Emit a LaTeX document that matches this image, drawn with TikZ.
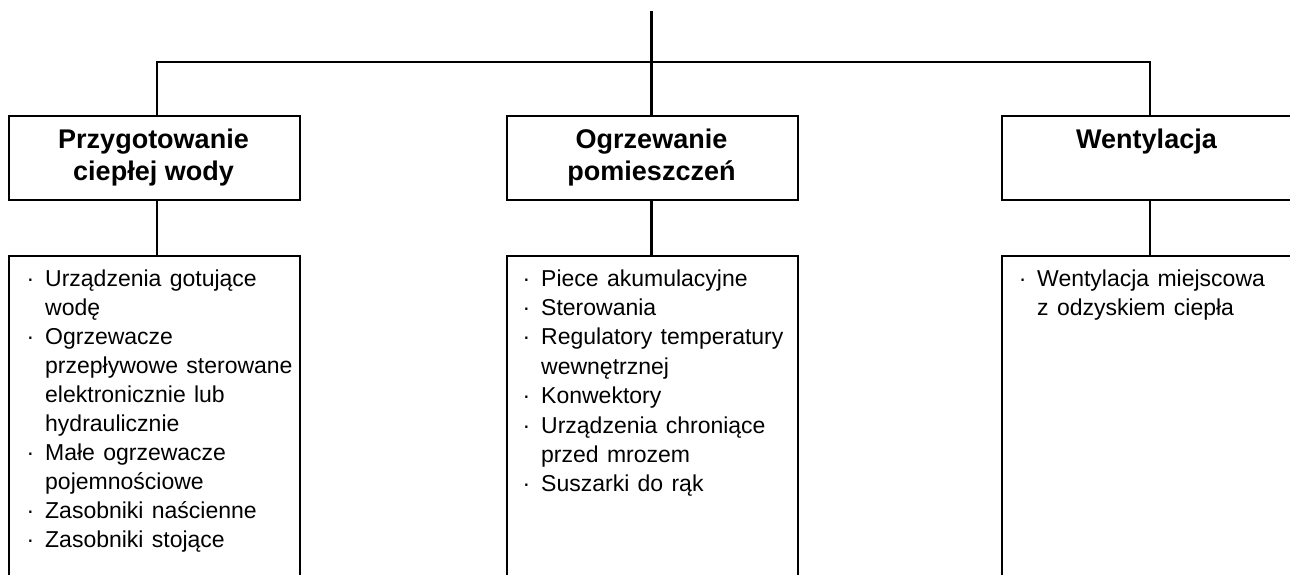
\documentclass[tikz,border=0pt]{standalone}
\usepackage{fontspec}
\setmainfont{Liberation Sans}
\newfontfamily\listfont{Liberation Sans}[WordSpace=1.3]
\newcommand\lbul{\makebox[0pt][r]{·\hspace{10.8pt}}}
\begin{document}
\begin{tikzpicture}[x=1pt,y=-1pt,
  conn/.style={line width=2.2pt},
  box/.style={draw, line width=2.2pt, inner sep=0pt, minimum width=291pt, anchor=north west},
  head/.style={inner sep=0pt, anchor=base, font=\fontsize{27}{31.5}\selectfont\bfseries},
  listtxt/.style={inner sep=0pt, anchor=base west, font=\listfont\fontsize{23}{29}\selectfont}]
\useasboundingbox (0,0) rectangle (1290,574);
\clip (0,0) rectangle (1290,574);
% header boxes
\node[box, minimum height=84pt] (h1) at (8,115) {};
\node[box, minimum height=84pt] (h2) at (506,115) {};
\node[box, minimum height=84pt] (h3) at (1001,115) {};
% list boxes
\node[box, minimum height=340pt] (l1) at (8,255) {};
\node[box, minimum height=340pt] (l2) at (506,255) {};
\node[box, minimum height=340pt] (l3) at (1001,255) {};
% connectors
\coordinate (top) at (651.5,10.5);
\coordinate (bL) at (157,62);
\coordinate (bR) at (1150,62);
\draw[conn] (top) -- (top |- h2.north);
\draw[conn] (bL |- h1.north) -- (bL) -- (bR) -- (bR |- h3.north);
\draw[conn] (h1.south -| bL) -- (bL |- l1.north);
\draw[conn] (h2.south -| top) -- (top |- l2.north);
\draw[conn] (h3.south -| bR) -- (bR |- l3.north);
% header texts
\node[head] (t1) at (153.5,148.5) {\begin{tabular}[t]{@{}c@{}}Przygotowanie\\ciepłej wody\end{tabular}};
\node[head] (t2) at (651.5,148.5) {\begin{tabular}[t]{@{}c@{}}Ogrzewanie\\pomieszczeń\end{tabular}};
\node[head] (t3) at (1146.5,148.5) {\begin{tabular}[t]{@{}c@{}}Wentylacja\end{tabular}};
% list texts
\node[listtxt] (x1) at (45,286) {\begin{tabular}[t]{@{}l@{}}
\lbul Urządzenia gotujące\\
wodę\\
\lbul Ogrzewacze\\
przepływowe sterowane\\
elektronicznie lub\\
hydraulicznie\\
\lbul Małe ogrzewacze\\
pojemnościowe\\
\lbul Zasobniki naścienne\\
\lbul Zasobniki stojące
\end{tabular}};
\node[listtxt, font=\listfont\fontsize{23}{29.4}\selectfont] (x2) at (541,286) {\begin{tabular}[t]{@{}l@{}}
\lbul Piece akumulacyjne\\
\lbul Sterowania\\
\lbul Regulatory temperatury\\
wewnętrznej\\
\lbul Konwektory\\
\lbul Urządzenia chroniące\\
przed mrozem\\
\lbul Suszarki do rąk
\end{tabular}};
\node[listtxt] (x3) at (1037,286) {\begin{tabular}[t]{@{}l@{}}
\lbul Wentylacja miejscowa\\
z odzyskiem ciepła
\end{tabular}};
\end{tikzpicture}
\end{document}
